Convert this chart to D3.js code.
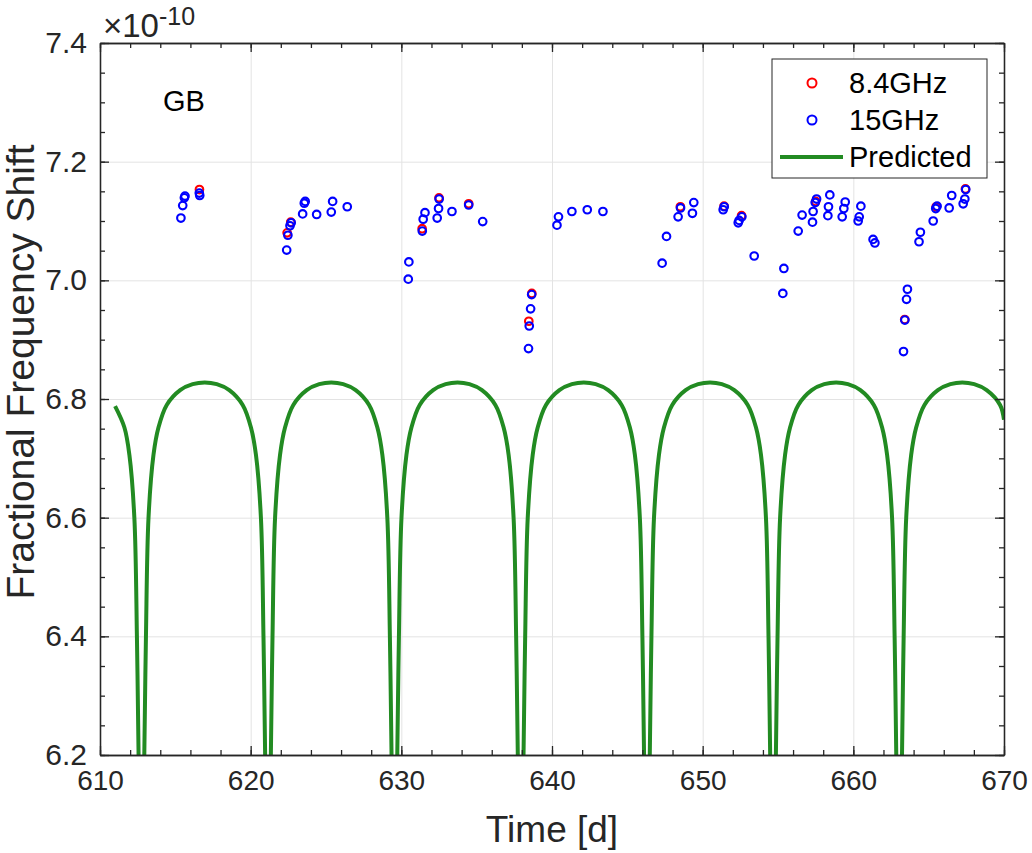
<!DOCTYPE html>
<html>
<head>
<meta charset="utf-8">
<script src="https://cdn.jsdelivr.net/npm/d3@7"></script>
<style>
  body { margin: 0; background: #fff; }
  svg text { font-family: "Liberation Sans", Arial, Helvetica, sans-serif; }
</style>
</head>
<body>
<div id="chart"></div>
<script>
// 15GHz measurements
var blueT = [615.37, 615.49, 615.64, 615.60, 616.59, 616.62,
  622.39, 622.47, 622.61, 622.69, 623.45, 623.56, 623.62, 624.38, 625.35, 625.44, 626.41,
  630.46, 630.50, 631.39, 631.45, 631.57, 632.38, 632.47, 632.51, 633.36, 634.47, 635.40,
  638.44, 638.49, 638.58, 638.65, 640.33, 640.43, 641.32, 642.34, 643.38,
  647.31, 647.60, 648.37, 648.53, 649.32, 649.41, 651.36, 651.43, 652.36, 652.42, 652.60, 653.42,
  655.32, 655.39, 656.34, 656.60, 657.29, 657.33, 657.47, 657.56, 658.31, 658.35, 658.44, 659.26, 659.37, 659.46, 660.32, 660.39, 660.50, 661.31, 661.43,
  663.33, 663.42, 663.53, 663.59, 664.36, 664.45, 665.30, 665.47, 665.56, 666.36, 666.53, 667.29, 667.40, 667.46];
var blueV = [7.105, 7.126, 7.142, 7.139, 7.147, 7.143,
  7.051, 7.076, 7.092, 7.097, 7.112, 7.130, 7.133, 7.111, 7.115, 7.133, 7.124,
  7.002, 7.031, 7.083, 7.103, 7.114, 7.105, 7.121, 7.137, 7.116, 7.127, 7.099,
  6.885, 6.923, 6.952, 6.976, 7.093, 7.107, 7.116, 7.119, 7.116,
  7.029, 7.074, 7.107, 7.122, 7.113, 7.131, 7.119, 7.124, 7.097, 7.101, 7.107, 7.041,
  6.978, 7.020, 7.083, 7.110, 7.098, 7.116, 7.131, 7.137, 7.109, 7.124, 7.144, 7.107, 7.121, 7.132, 7.100, 7.107, 7.125, 7.069, 7.063,
  6.880, 6.933, 6.968, 6.985, 7.065, 7.081, 7.100, 7.121, 7.125, 7.122, 7.143, 7.129, 7.137, 7.153];

// 8.4GHz measurements (mostly hidden under the 15GHz ones)
var redT = [616.60, 622.42, 622.66, 631.38, 632.50, 634.47, 638.46, 638.66, 648.52, 651.42, 652.58, 657.50, 663.41, 665.50, 667.44];
var redV = [7.153, 7.080, 7.098, 7.087, 7.139, 7.129, 6.931, 6.978, 7.124, 7.125, 7.109, 7.133, 6.934, 7.124, 7.154];

// predicted curve
var predT = [611.00, 611.62, 611.95, 612.28, 612.45, 612.56, 612.75,
  612.94, 613.05, 613.22, 613.55, 613.88, 614.43, 615.32, 616.15, 616.95, 617.75, 618.58, 619.47, 620.02, 620.35, 620.68, 620.85, 620.96, 621.15,
  621.34, 621.45, 621.62, 621.95, 622.28, 622.83, 623.72, 624.55, 625.35, 626.14, 626.97, 627.86, 628.41, 628.74, 629.07, 629.24, 629.35, 629.54,
  629.73, 629.84, 630.01, 630.34, 630.67, 631.22, 632.11, 632.94, 633.73, 634.52, 635.35, 636.24, 636.79, 637.12, 637.45, 637.62, 637.73, 637.92,
  638.11, 638.22, 638.39, 638.72, 639.05, 639.60, 640.49, 641.32, 642.11, 642.90, 643.73, 644.62, 645.17, 645.50, 645.83, 646.00, 646.11, 646.30,
  646.49, 646.60, 646.77, 647.10, 647.43, 647.98, 648.87, 649.70, 650.49, 651.27, 652.10, 652.99, 653.54, 653.87, 654.20, 654.37, 654.48, 654.67,
  654.86, 654.97, 655.14, 655.47, 655.80, 656.35, 657.24, 658.07, 658.86, 659.64, 660.47, 661.36, 661.91, 662.24, 662.57, 662.74, 662.85, 663.04,
  663.23, 663.34, 663.51, 663.84, 664.17, 664.72, 665.61, 666.44, 667.23, 668.02, 668.85, 669.74, 670.00];
var predV = [6.788, 6.752, 6.706, 6.600, 6.400, 6.200, 5.900,
  6.200, 6.400, 6.600, 6.706, 6.752, 6.790, 6.815, 6.825, 6.828, 6.825, 6.815, 6.790, 6.752, 6.706, 6.600, 6.400, 6.200, 5.900,
  6.200, 6.400, 6.600, 6.706, 6.752, 6.790, 6.815, 6.825, 6.828, 6.825, 6.815, 6.790, 6.752, 6.706, 6.600, 6.400, 6.200, 5.900,
  6.200, 6.400, 6.600, 6.706, 6.752, 6.790, 6.815, 6.825, 6.828, 6.825, 6.815, 6.790, 6.752, 6.706, 6.600, 6.400, 6.200, 5.900,
  6.200, 6.400, 6.600, 6.706, 6.752, 6.790, 6.815, 6.825, 6.828, 6.825, 6.815, 6.790, 6.752, 6.706, 6.600, 6.400, 6.200, 5.900,
  6.200, 6.400, 6.600, 6.706, 6.752, 6.790, 6.815, 6.825, 6.828, 6.825, 6.815, 6.790, 6.752, 6.706, 6.600, 6.400, 6.200, 5.900,
  6.200, 6.400, 6.600, 6.706, 6.752, 6.790, 6.815, 6.825, 6.828, 6.825, 6.815, 6.790, 6.752, 6.706, 6.600, 6.400, 6.200, 5.900,
  6.200, 6.400, 6.600, 6.706, 6.752, 6.790, 6.815, 6.825, 6.828, 6.825, 6.815, 6.790, 6.765];

var xTicks = [610, 620, 630, 640, 650, 660, 670];
var yTicks = [6.2, 6.4, 6.6, 6.8, 7.0, 7.2, 7.4];
var xMinor = d3.range(610, 670.01, 2);
var yMinor = d3.range(6.2, 7.401, 0.05);

var W = 1032, H = 853;
var boxL = 100, boxR = 1004, boxT = 43, boxB = 755;
var axisColor = "#262626";

var x = d3.scaleLinear().domain([610, 670]).range([boxL, boxR]);
var y = d3.scaleLinear().domain([6.2, 7.4]).range([boxB, boxT]);

var svg = d3.select("#chart").append("svg")
  .attr("width", W)
  .attr("height", H);

svg.append("defs").append("clipPath").attr("id", "plotclip")
  .append("rect")
  .attr("x", boxL).attr("y", boxT)
  .attr("width", boxR - boxL).attr("height", boxB - boxT);

// grid
svg.append("g")
  .attr("transform", "translate(0," + boxB + ")")
  .call(d3.axisBottom(x).tickValues(xTicks).tickSize(-(boxB - boxT)).tickFormat(""))
  .call(function(g) { g.select(".domain").remove(); })
  .selectAll("line").attr("stroke", "#e3e3e3").attr("stroke-width", 1);
svg.append("g")
  .attr("transform", "translate(" + boxL + ",0)")
  .call(d3.axisLeft(y).tickValues(yTicks).tickSize(-(boxR - boxL)).tickFormat(""))
  .call(function(g) { g.select(".domain").remove(); })
  .selectAll("line").attr("stroke", "#e3e3e3").attr("stroke-width", 1);

// data, clipped to the axes box
var plot = svg.append("g").attr("clip-path", "url(#plotclip)");

plot.selectAll("circle.red").data(d3.range(redT.length)).enter()
  .append("circle").attr("class", "red")
  .attr("cx", function(i) { return x(redT[i]); })
  .attr("cy", function(i) { return y(redV[i]); })
  .attr("r", 3.8)
  .attr("fill", "none").attr("stroke", "#ff0000").attr("stroke-width", 2.1);

plot.selectAll("circle.blue").data(d3.range(blueT.length)).enter()
  .append("circle").attr("class", "blue")
  .attr("cx", function(i) { return x(blueT[i]); })
  .attr("cy", function(i) { return y(blueV[i]); })
  .attr("r", 3.8)
  .attr("fill", "none").attr("stroke", "#0000ff").attr("stroke-width", 2.1);

var line = d3.line()
  .x(function(i) { return x(predT[i]); })
  .y(function(i) { return y(predV[i]); })
  .curve(d3.curveCatmullRom.alpha(0.5));

plot.append("path")
  .datum(d3.range(predT.length))
  .attr("d", line)
  .attr("fill", "none")
  .attr("stroke", "#228b22")
  .attr("stroke-width", 4);

// box axes with inward ticks
function styleAxis(g) {
  g.select(".domain").attr("stroke", axisColor).attr("stroke-width", 1.3);
  g.selectAll(".tick line").attr("stroke", axisColor).attr("stroke-width", 1.3);
}
function noLabels(g) { g.selectAll("text").remove(); }

svg.append("g").attr("transform", "translate(0," + boxB + ")")
  .call(d3.axisBottom(x).tickValues(xMinor).tickSize(-5).tickSizeOuter(0).tickFormat(""))
  .call(styleAxis).call(noLabels);
svg.append("g").attr("transform", "translate(0," + boxT + ")")
  .call(d3.axisTop(x).tickValues(xMinor).tickSize(-5).tickSizeOuter(0).tickFormat(""))
  .call(styleAxis).call(noLabels);
svg.append("g").attr("transform", "translate(" + boxL + ",0)")
  .call(d3.axisLeft(y).tickValues(yMinor).tickSize(-5).tickSizeOuter(0).tickFormat(""))
  .call(styleAxis).call(noLabels);
svg.append("g").attr("transform", "translate(" + boxR + ",0)")
  .call(d3.axisRight(y).tickValues(yMinor).tickSize(-5).tickSizeOuter(0).tickFormat(""))
  .call(styleAxis).call(noLabels);

var xAx = svg.append("g").attr("transform", "translate(0," + boxB + ")")
  .call(d3.axisBottom(x).tickValues(xTicks).tickSize(-9).tickSizeOuter(0).tickPadding(15).tickFormat(d3.format("d")))
  .call(styleAxis);
xAx.selectAll("text").attr("fill", axisColor).attr("font-size", 28);
svg.append("g").attr("transform", "translate(0," + boxT + ")")
  .call(d3.axisTop(x).tickValues(xTicks).tickSize(-9).tickSizeOuter(0).tickFormat(""))
  .call(styleAxis).call(noLabels);

var yAx = svg.append("g").attr("transform", "translate(" + boxL + ",0)")
  .call(d3.axisLeft(y).tickValues(yTicks).tickSize(-9).tickSizeOuter(0).tickPadding(13).tickFormat(d3.format(".1f")))
  .call(styleAxis);
yAx.selectAll("text").attr("fill", axisColor).attr("font-size", 30);
svg.append("g").attr("transform", "translate(" + boxR + ",0)")
  .call(d3.axisRight(y).tickValues(yTicks).tickSize(-9).tickSizeOuter(0).tickFormat(""))
  .call(styleAxis).call(noLabels);

// exponent label
var expo = svg.append("text")
  .attr("x", 103).attr("y", 37)
  .attr("fill", axisColor)
  .attr("font-size", 33);
expo.append("tspan").text("\u00d710");
expo.append("tspan").attr("dy", -12).attr("font-size", 25).text("-10");

// axis titles
svg.append("text")
  .attr("x", (boxL + boxR) / 2).attr("y", 842)
  .attr("text-anchor", "middle")
  .attr("fill", axisColor)
  .attr("font-size", 37)
  .text("Time [d]");
svg.append("text")
  .attr("transform", "translate(34," + ((boxT + boxB) / 2 - 27) + ") rotate(-90)")
  .attr("text-anchor", "middle")
  .attr("fill", axisColor)
  .attr("font-size", 39)
  .text("Fractional Frequency Shift");

svg.append("text")
  .attr("x", 163).attr("y", 111)
  .attr("fill", "#000")
  .attr("font-size", 29)
  .text("GB");

// legend
var lg = svg.append("g");
lg.append("rect")
  .attr("x", 772).attr("y", 59).attr("width", 215).attr("height", 119)
  .attr("fill", "#fff").attr("stroke", axisColor).attr("stroke-width", 1);
var legendItems = [
  { label: "8.4GHz", type: "circle", color: "#ff0000", cy: 83 },
  { label: "15GHz", type: "circle", color: "#0000ff", cy: 120 },
  { label: "Predicted", type: "line", color: "#228b22", cy: 157 }
];
legendItems.forEach(function(d) {
  if (d.type === "circle") {
    lg.append("circle").attr("cx", 812).attr("cy", d.cy).attr("r", 4.5)
      .attr("fill", "none").attr("stroke", d.color).attr("stroke-width", 2);
  } else {
    lg.append("line").attr("x1", 780).attr("x2", 843).attr("y1", d.cy).attr("y2", d.cy)
      .attr("stroke", d.color).attr("stroke-width", 4);
  }
  lg.append("text").attr("x", 849).attr("y", d.cy).attr("dy", "0.36em")
    .attr("fill", "#000").attr("font-size", 29)
    .text(d.label);
});
</script>
</body>
</html>
